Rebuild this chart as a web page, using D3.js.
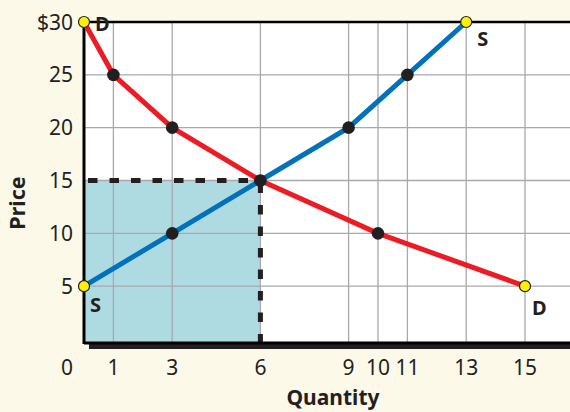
<!DOCTYPE html>
<html>
<head>
<meta charset="utf-8">
<script src="https://cdn.jsdelivr.net/npm/d3@7"></script>
<style>
  body { margin: 0; background: #fdf9e9; }
  text { font-family: "Noto Sans", "DejaVu Sans", sans-serif; fill: #231f20; }
</style>
</head>
<body>
<div id="chart"></div>
<script>
// datos
const demandaQ = [0, 1, 3, 6, 10, 15];
const demandaP = [30, 25, 20, 15, 10, 5];
const ofertaQ = [0, 3, 6, 9, 11, 13];
const ofertaP = [5, 10, 15, 20, 25, 30];
const puntosQ = [1, 3, 3, 6, 9, 10, 11];
const puntosP = [25, 20, 10, 15, 20, 10, 25];
const extremosQ = [0, 15, 0, 13];
const extremosP = [30, 5, 5, 30];
const ticksX = [1, 3, 6, 9, 10, 11, 13, 15];
const ticksY = [5, 10, 15, 20, 25, 30];
const equilibrio = { q: 6, p: 15 };

const W = 570, H = 412;
const mIzq = 84, mSup = 22, mDer = 570, mInf = 343;

const svg = d3.select("#chart").append("svg")
    .attr("width", W)
    .attr("height", H);

const x = d3.scaleLinear().domain([0, 15]).range([mIzq, 525]);
const y = d3.scaleLinear().domain([0, 30]).range([339, mSup]);

// fondo del grafico
svg.append("rect")
    .attr("x", mIzq).attr("y", mSup)
    .attr("width", mDer - mIzq).attr("height", mInf - mSup)
    .attr("fill", "#fff");

// area sombreada
svg.append("rect")
    .attr("x", x(0)).attr("y", y(equilibrio.p))
    .attr("width", x(equilibrio.q) - x(0))
    .attr("height", mInf - y(equilibrio.p))
    .attr("fill", "#aedbe2");

// rejilla
svg.append("g").selectAll("line")
    .data(ticksX)
    .enter().append("line")
    .attr("x1", d => x(d)).attr("x2", d => x(d))
    .attr("y1", mSup).attr("y2", mInf)
    .attr("stroke", "#a7a9ac").attr("stroke-width", 1.3);

svg.append("g").selectAll("line")
    .data(ticksY.filter(d => d < 30))
    .enter().append("line")
    .attr("x1", mIzq).attr("x2", mDer)
    .attr("y1", d => y(d)).attr("y2", d => y(d))
    .attr("stroke", "#a7a9ac").attr("stroke-width", 1.3);

// lineas punteadas
svg.append("line")
    .attr("x1", x(0) + 4).attr("x2", x(equilibrio.q))
    .attr("y1", y(equilibrio.p)).attr("y2", y(equilibrio.p))
    .attr("stroke", "#231f20")
    .attr("stroke-width", 5)
    .attr("stroke-dasharray", "9.5,12");
svg.append("line")
    .attr("x1", x(equilibrio.q)).attr("x2", x(equilibrio.q))
    .attr("y1", y(equilibrio.p) + 3).attr("y2", mInf)
    .attr("stroke", "#231f20")
    .attr("stroke-width", 5)
    .attr("stroke-dasharray", "9.5,12");

// ejes
svg.append("rect")
    .attr("x", 89).attr("y", mInf)
    .attr("width", mDer - 89).attr("height", 6)
    .attr("fill", "#231f20");
svg.append("line")
    .attr("x1", mIzq).attr("x2", mDer)
    .attr("y1", mInf).attr("y2", mInf)
    .attr("stroke", "#000").attr("stroke-width", 3);
svg.append("line")
    .attr("x1", mIzq).attr("x2", mIzq)
    .attr("y1", mSup).attr("y2", mInf + 1)
    .attr("stroke", "#000").attr("stroke-width", 3);
svg.append("line")
    .attr("x1", mIzq).attr("x2", mDer)
    .attr("y1", mSup).attr("y2", mSup)
    .attr("stroke", "#000").attr("stroke-width", 2.5);

// curvas
const linea = d3.line().x(d => x(d[0])).y(d => y(d[1]));

svg.append("path")
    .datum(demandaQ.map((q, i) => [q, demandaP[i]]))
    .attr("d", linea)
    .attr("fill", "none")
    .attr("stroke", "#ed1c24")
    .attr("stroke-width", 5);

svg.append("path")
    .datum(ofertaQ.map((q, i) => [q, ofertaP[i]]))
    .attr("d", linea)
    .attr("fill", "none")
    .attr("stroke", "#0071bc")
    .attr("stroke-width", 5);

// puntos
svg.append("g").selectAll("circle")
    .data(puntosQ.map((q, i) => [q, puntosP[i]]))
    .enter().append("circle")
    .attr("cx", d => x(d[0]))
    .attr("cy", d => y(d[1]))
    .attr("r", 6.3)
    .attr("fill", "#231f20");

svg.append("g").selectAll("circle")
    .data(extremosQ.map((q, i) => [q, extremosP[i]]))
    .enter().append("circle")
    .attr("cx", d => x(d[0]))
    .attr("cy", d => y(d[1]))
    .attr("r", 5.5)
    .attr("fill", "#fff200")
    .attr("stroke", "#231f20")
    .attr("stroke-width", 1.2);

// etiquetas de curvas
const etiquetas = [
    { t: "D", q: 0, p: 30, dx: 11, dy: 9 },
    { t: "S", q: 13, p: 30, dx: 11, dy: 24 },
    { t: "S", q: 0, p: 5, dx: 6, dy: 26 },
    { t: "D", q: 15, p: 5, dx: 7, dy: 29 }
];
svg.append("g").selectAll("text")
    .data(etiquetas)
    .enter().append("text")
    .attr("x", d => x(d.q) + d.dx)
    .attr("y", d => y(d.p) + d.dy)
    .attr("font-size", 20)
    .attr("font-weight", "bold")
    .text(d => d.t);

// etiquetas de ejes
svg.append("g").selectAll("text")
    .data(ticksY)
    .enter().append("text")
    .attr("x", 73)
    .attr("y", d => y(d))
    .attr("dy", "0.36em")
    .attr("text-anchor", "end")
    .attr("font-size", 21)
    .text(d => d === 30 ? "$30" : d);

svg.append("g").selectAll("text")
    .data(ticksX)
    .enter().append("text")
    .attr("x", d => x(d))
    .attr("y", 375)
    .attr("text-anchor", "middle")
    .attr("font-size", 21)
    .text(d => d);

svg.append("text")
    .attr("x", 67).attr("y", 375)
    .attr("text-anchor", "middle")
    .attr("font-size", 21)
    .text("0");

svg.append("text")
    .attr("x", 333).attr("y", 405)
    .attr("text-anchor", "middle")
    .attr("font-size", 21)
    .attr("font-weight", "bold")
    .text("Quantity");

svg.append("text")
    .attr("transform", "translate(25,203) rotate(-90)")
    .attr("text-anchor", "middle")
    .attr("font-size", 21.5)
    .attr("font-weight", "bold")
    .text("Price");
</script>
</body>
</html>
